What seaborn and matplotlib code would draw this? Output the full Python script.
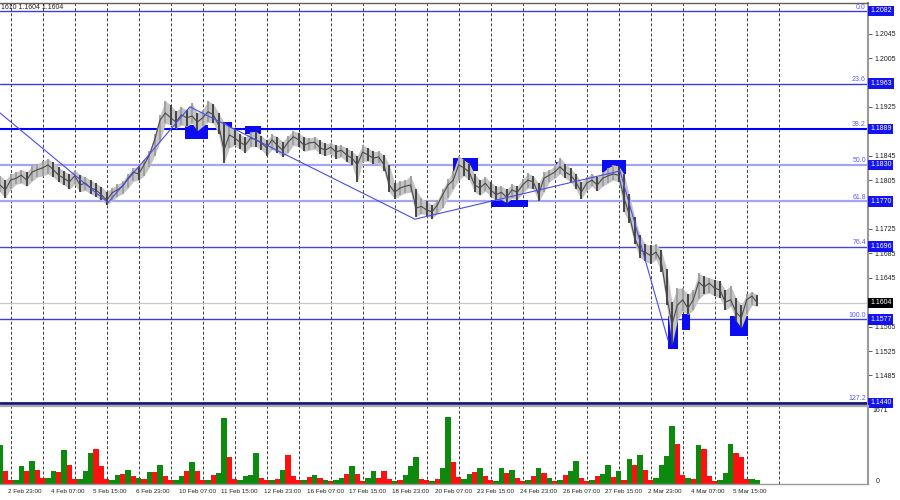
import matplotlib
matplotlib.use("Agg")
import matplotlib.pyplot as plt
import matplotlib.transforms as mtransforms
from matplotlib.patches import Rectangle
import numpy as np
import pandas as pd
import seaborn as sns

# ── price samples (one sample = 4 hourly bars) ─────────────────
CLOSE = [
    1.1797, 1.1789, 1.1805, 1.1808, 1.1813, 1.1805, 1.1818, 1.1822, 1.1825, 1.1830,
    1.1822, 1.1813, 1.1808, 1.1802, 1.1812, 1.1797, 1.1800, 1.1792, 1.1789, 1.1781,
    1.1772, 1.1784, 1.1789, 1.1795, 1.1808, 1.1818, 1.1815, 1.1830, 1.1846, 1.1871,
    1.1903, 1.1915, 1.1907, 1.1900, 1.1912, 1.1907, 1.1910, 1.1900, 1.1907, 1.1917,
    1.1912, 1.1895, 1.1854, 1.1879, 1.1874, 1.1867, 1.1862, 1.1874, 1.1871, 1.1866,
    1.1858, 1.1871, 1.1862, 1.1854, 1.1867, 1.1876, 1.1871, 1.1862, 1.1866, 1.1867,
    1.1858, 1.1854, 1.1859, 1.1851, 1.1854, 1.1846, 1.1841, 1.1830, 1.1851, 1.1846,
    1.1841, 1.1843, 1.1830, 1.1797, 1.1785, 1.1792, 1.1795, 1.1797, 1.1759, 1.1762,
    1.1756, 1.1753, 1.1764, 1.1781, 1.1797, 1.1805, 1.1830, 1.1825, 1.1818, 1.1797,
    1.1792, 1.1800, 1.1789, 1.1781, 1.1785, 1.1777, 1.1789, 1.1785, 1.1797, 1.1805,
    1.1802, 1.1781, 1.1808, 1.1813, 1.1818, 1.1827, 1.1818, 1.1813, 1.1802, 1.1785,
    1.1800, 1.1805, 1.1797, 1.1808, 1.1812, 1.1815, 1.1813, 1.1776, 1.1748, 1.1710,
    1.1690, 1.1687, 1.1681, 1.1687, 1.1671, 1.1617, 1.1568, 1.1600, 1.1609, 1.1595,
    1.1609, 1.1638, 1.1630, 1.1636, 1.1628, 1.1625, 1.1605, 1.1609, 1.1589, 1.1579,
    1.1609, 1.1615, 1.1604,
]
HIGH = [
    1.1812, 1.1805, 1.1815, 1.1818, 1.1822, 1.1818, 1.1828, 1.1832, 1.1836, 1.1840,
    1.1834, 1.1826, 1.1820, 1.1815, 1.1822, 1.1814, 1.1810, 1.1805, 1.1800, 1.1794,
    1.1786, 1.1792, 1.1798, 1.1803, 1.1815, 1.1825, 1.1828, 1.1838, 1.1852, 1.1880,
    1.1912, 1.1935, 1.1928, 1.1918, 1.1925, 1.1920, 1.1932, 1.1915, 1.1920, 1.1935,
    1.1930, 1.1915, 1.1900, 1.1892, 1.1888, 1.1880, 1.1875, 1.1884, 1.1885, 1.1878,
    1.1870, 1.1880, 1.1876, 1.1868, 1.1877, 1.1886, 1.1882, 1.1876, 1.1874, 1.1876,
    1.1870, 1.1865, 1.1866, 1.1862, 1.1862, 1.1858, 1.1852, 1.1845, 1.1862, 1.1858,
    1.1852, 1.1852, 1.1846, 1.1830, 1.1800, 1.1803, 1.1805, 1.1812, 1.1790, 1.1775,
    1.1770, 1.1765, 1.1772, 1.1790, 1.1806, 1.1820, 1.1845, 1.1838, 1.1832, 1.1815,
    1.1805, 1.1810, 1.1802, 1.1795, 1.1795, 1.1790, 1.1798, 1.1795, 1.1806, 1.1816,
    1.1812, 1.1800, 1.1818, 1.1822, 1.1828, 1.1842, 1.1832, 1.1824, 1.1815, 1.1802,
    1.1810, 1.1815, 1.1810, 1.1818, 1.1825, 1.1830, 1.1828, 1.1815, 1.1782, 1.1745,
    1.1715, 1.1700, 1.1698, 1.1700, 1.1690, 1.1660, 1.1605, 1.1628, 1.1628, 1.1618,
    1.1625, 1.1652, 1.1648, 1.1645, 1.1642, 1.1640, 1.1625, 1.1632, 1.1612, 1.1600,
    1.1618, 1.1622, 1.1617,
]
LOW = [
    1.1785, 1.1776, 1.1790, 1.1798, 1.1800, 1.1795, 1.1803, 1.1810, 1.1812, 1.1815,
    1.1810, 1.1802, 1.1797, 1.1790, 1.1798, 1.1786, 1.1788, 1.1782, 1.1778, 1.1772,
    1.1765, 1.1770, 1.1778, 1.1783, 1.1792, 1.1803, 1.1805, 1.1812, 1.1826, 1.1845,
    1.1868, 1.1898, 1.1895, 1.1890, 1.1895, 1.1893, 1.1898, 1.1886, 1.1893, 1.1900,
    1.1898, 1.1880, 1.1833, 1.1858, 1.1862, 1.1856, 1.1850, 1.1860, 1.1860, 1.1855,
    1.1845, 1.1855, 1.1850, 1.1843, 1.1850, 1.1862, 1.1860, 1.1852, 1.1854, 1.1856,
    1.1848, 1.1845, 1.1848, 1.1840, 1.1843, 1.1835, 1.1830, 1.1802, 1.1835, 1.1836,
    1.1832, 1.1833, 1.1820, 1.1785, 1.1774, 1.1780, 1.1784, 1.1785, 1.1745, 1.1750,
    1.1747, 1.1742, 1.1750, 1.1760, 1.1775, 1.1790, 1.1805, 1.1812, 1.1805, 1.1785,
    1.1780, 1.1787, 1.1778, 1.1772, 1.1773, 1.1768, 1.1775, 1.1773, 1.1783, 1.1792,
    1.1790, 1.1770, 1.1785, 1.1802, 1.1808, 1.1815, 1.1808, 1.1802, 1.1790, 1.1774,
    1.1788, 1.1795, 1.1787, 1.1795, 1.1800, 1.1805, 1.1802, 1.1753, 1.1735, 1.1700,
    1.1678, 1.1672, 1.1668, 1.1675, 1.1655, 1.1600, 1.1535, 1.1575, 1.1590, 1.1585,
    1.1592, 1.1610, 1.1618, 1.1620, 1.1615, 1.1612, 1.1592, 1.1598, 1.1575, 1.1563,
    1.1585, 1.1600, 1.1598,
]
# tick volume per sample, negative = bearish (red) bar
VOLUME = [
    870, -300, -100, 90, 410, -300, 530, -320, -140, 130,
    300, -280, 760, -420, -120, 110, 300, 710, -800, -410,
    -120, 100, 210, -230, 320, -180, 140, -110, 270, -280,
    440, -180, -90, 90, 180, -300, 490, -290, -90, 90,
    -210, 250, 1490, -600, -110, 90, 180, 210, 710, -140,
    -90, 90, -110, 320, -660, -180, -90, 90, -160, 210,
    -140, 90, -70, 90, 140, -230, 410, -230, -70, 140,
    300, -140, -300, -110, 70, -90, 210, 410, 600, -110,
    -90, 70, -110, 370, 1510, -500, -160, 110, 230, -280,
    370, -180, -90, 70, 370, -250, 320, -140, -70, 90,
    -180, 370, -250, 140, -70, 90, -210, 300, 530, -140,
    -70, 90, -180, 230, 440, -160, 300, -90, 570, -430,
    660, -320, -90, 140, 440, 640, 1300, -900, -210, 140,
    -110, 890, -780, -180, -70, 90, 250, 910, -710, -600,
    -110, 110, 90,
]
VOL_MAX = 1671
LAST_PRICE = 1.1604

ZIGZAG_X = [0, 20.25, 35.6, 77.8, 116.25, 125.25]
ZIGZAG_Y = [1.1915, 1.1768, 1.1925, 1.1741, 1.1820, 1.1543]

# supply / demand zones
BOX_X0 = [34.7, 41.8, 45.9, 84.9, 92.1, 104.2, 112.9, 125.25, 127.9, 136.9]
BOX_X1 = [39.0, 43.5, 48.9, 89.6, 99.0, 105.75, 117.4, 127.1, 129.4, 140.25]
BOX_TOP = [1.1895, 1.1900, 1.1894, 1.1841, 1.1772, 1.1835, 1.1838, 1.1582, 1.1586, 1.1582]
BOX_BOTTOM = [1.1872, 1.1879, 1.1881, 1.1820, 1.1761, 1.1820, 1.1815, 1.1528, 1.1560, 1.1550]

FIB_NAMES = ["0.0", "23.6", "38.2", "50.0", "61.8", "76.4", "100.0", "127.2"]
FIB_LEVELS = [1.2082, 1.1963, 1.1889, 1.1830, 1.1770, 1.1696, 1.1577, 1.1440]

PRICE_TICKS = [1.2045, 1.2005, 1.1925, 1.1845, 1.1805,
               1.1725, 1.1685, 1.1645, 1.1565, 1.1525, 1.1485]

TIME_LABELS = ["2 Feb 23:00", "4 Feb 07:00", "5 Feb 15:00", "6 Feb 23:00",
               "10 Feb 07:00", "11 Feb 15:00", "12 Feb 23:00", "16 Feb 07:00",
               "17 Feb 15:00", "18 Feb 23:00", "20 Feb 07:00", "23 Feb 15:00",
               "24 Feb 23:00", "26 Feb 07:00", "27 Feb 15:00", "2 Mar 23:00",
               "4 Mar 07:00", "5 Mar 15:00"]

# ── styling ───────────────────────────────────────────────────
FIB_COLORS = ["#3c3ce0", "#3c3ce0", "#0000ff", "#a4a4f6", "#a4a4f6",
              "#4646d6", "#3c3ce0", "#14147c"]
FIB_WIDTHS = [1.0, 1.0, 1.5, 1.6, 1.6, 1.0, 1.0, 2.0]
BOX_COLOR = "#0c0cf2"
FRAME = "#9a9a9a"

sns.set_style("white")
plt.rcParams["font.family"] = ["Liberation Sans", "DejaVu Sans"]

fig = plt.figure(figsize=(9, 5), dpi=100)
ax = fig.add_axes([0, 0.191, 0.9644, 0.803])
axv = fig.add_axes([0, 0.032, 0.9644, 0.157])

df = pd.DataFrame({"s": np.arange(len(CLOSE)), "close": CLOSE,
                   "high": HIGH, "low": LOW, "vol": VOLUME})
xmax = 162.75

# horizontal levels
for lvl, col, lw in zip(FIB_LEVELS, FIB_COLORS, FIB_WIDTHS):
    ax.axhline(lvl, color=col, lw=lw, zorder=1.5)
ax.axhline(LAST_PRICE, color="#c8c8c8", lw=0.9, zorder=1.4)

# zones
for x0, x1, top, bot in zip(BOX_X0, BOX_X1, BOX_TOP, BOX_BOTTOM):
    ax.add_patch(Rectangle((x0, bot), x1 - x0, top - bot, fc=BOX_COLOR,
                           ec="none", zorder=1.8))

# price bars
up = df["close"].diff().fillna(0) >= 0
ax.fill_between(df["s"], df["low"], df["high"], color="#c4c4c4", lw=0, zorder=2)
ax.vlines(df["s"], df["low"], df["high"],
          colors=np.where(up, "#9c9c9c", "#3a3a3a"), lw=1.3, zorder=3)
sns.lineplot(data=df, x="s", y="close", ax=ax, color="#4a4a4a", lw=0.8, zorder=4)

# zigzag
sns.lineplot(x=ZIGZAG_X, y=ZIGZAG_Y, ax=ax, color="#4a4af0", lw=0.8,
             sort=False, zorder=5)

# volume
axv.bar(df["s"], df["vol"].abs(), width=1.0, lw=0,
        color=np.where(df["vol"] > 0, "#0d8a0d", "#ff1010"), zorder=2)

# vertical grid
for g in np.arange(2, 150, 6):
    for a in (ax, axv):
        a.axvline(g, color="#3a3a3a", lw=0.7, ls=(0, (3, 2.2)), zorder=1)

# price axis
ax.set_xlim(0, xmax)
ax.set_ylim(1.14374, 1.20951)
ax.yaxis.tick_right()
ax.set_yticks(PRICE_TICKS)
ax.set_yticklabels([f"{p:.4f}" for p in PRICE_TICKS])
ax.tick_params(axis="y", labelsize=5, length=3, width=0.6, pad=2,
               color="#404040", labelcolor="#202020")
ax.tick_params(axis="x", bottom=False, labelbottom=False)
ax.set_xlabel("")
ax.set_ylabel("")
for side in ("left", "bottom"):
    ax.spines[side].set_visible(False)
ax.spines["top"].set_color("#606060")
ax.spines["top"].set_linewidth(1.0)
ax.spines["right"].set_color(FRAME)
ax.spines["right"].set_linewidth(1.5)

trans = mtransforms.blended_transform_factory(ax.transAxes, ax.transData)
for name, lvl in zip(FIB_NAMES, FIB_LEVELS):
    ax.annotate(name, xy=(1, lvl), xycoords=trans, xytext=(-1.5, 0.3),
                textcoords="offset points", ha="right", va="bottom",
                fontsize=5, color="#5a5aff", annotation_clip=False)
    ax.annotate(f"{lvl:.4f}", xy=(1, lvl), xycoords=trans, xytext=(1.6, 0),
                textcoords="offset points", ha="left", va="center",
                fontsize=5, color="white", annotation_clip=False, zorder=10,
                bbox=dict(boxstyle="square,pad=0.25", fc="#1414f0", ec="none"))
ax.annotate(f"{LAST_PRICE:.4f}", xy=(1, LAST_PRICE), xycoords=trans,
            xytext=(1.6, 0), textcoords="offset points", ha="left",
            va="center", fontsize=5, color="white", annotation_clip=False,
            zorder=10, bbox=dict(boxstyle="square,pad=0.25", fc="black", ec="none"))

# volume axis
axv.set_xlim(0, xmax)
axv.set_ylim(0, 1773)
axv.set_yticks([])
axv.set_xticks([1.5 + 8 * k for k in range(len(TIME_LABELS))])
axv.set_xticklabels(TIME_LABELS, ha="left")
axv.tick_params(axis="x", labelsize=4.5, length=2.5, width=0.6, pad=1,
                color="#404040", labelcolor="#202020")
axv.spines["left"].set_visible(False)
axv.spines["top"].set_color("#a8a8a8")
axv.spines["top"].set_linewidth(1.6)
axv.spines["right"].set_color(FRAME)
axv.spines["right"].set_linewidth(1.5)
axv.spines["bottom"].set_color(FRAME)
axv.spines["bottom"].set_linewidth(1.0)
vtrans = mtransforms.blended_transform_factory(axv.transAxes, axv.transData)
axv.text(1.005, 1735, str(VOL_MAX), transform=vtrans, ha="left",
         va="top", fontsize=5, color="#202020")
axv.text(1.009, 60, "0", transform=vtrans, ha="left", va="center",
         fontsize=5, color="#202020")

fig.text(0.001, 0.985, "1610 1.1604 1.1604", fontsize=5, color="#202020",
         ha="left", va="center")

fig.savefig("out.png", dpi=100, facecolor="white")
